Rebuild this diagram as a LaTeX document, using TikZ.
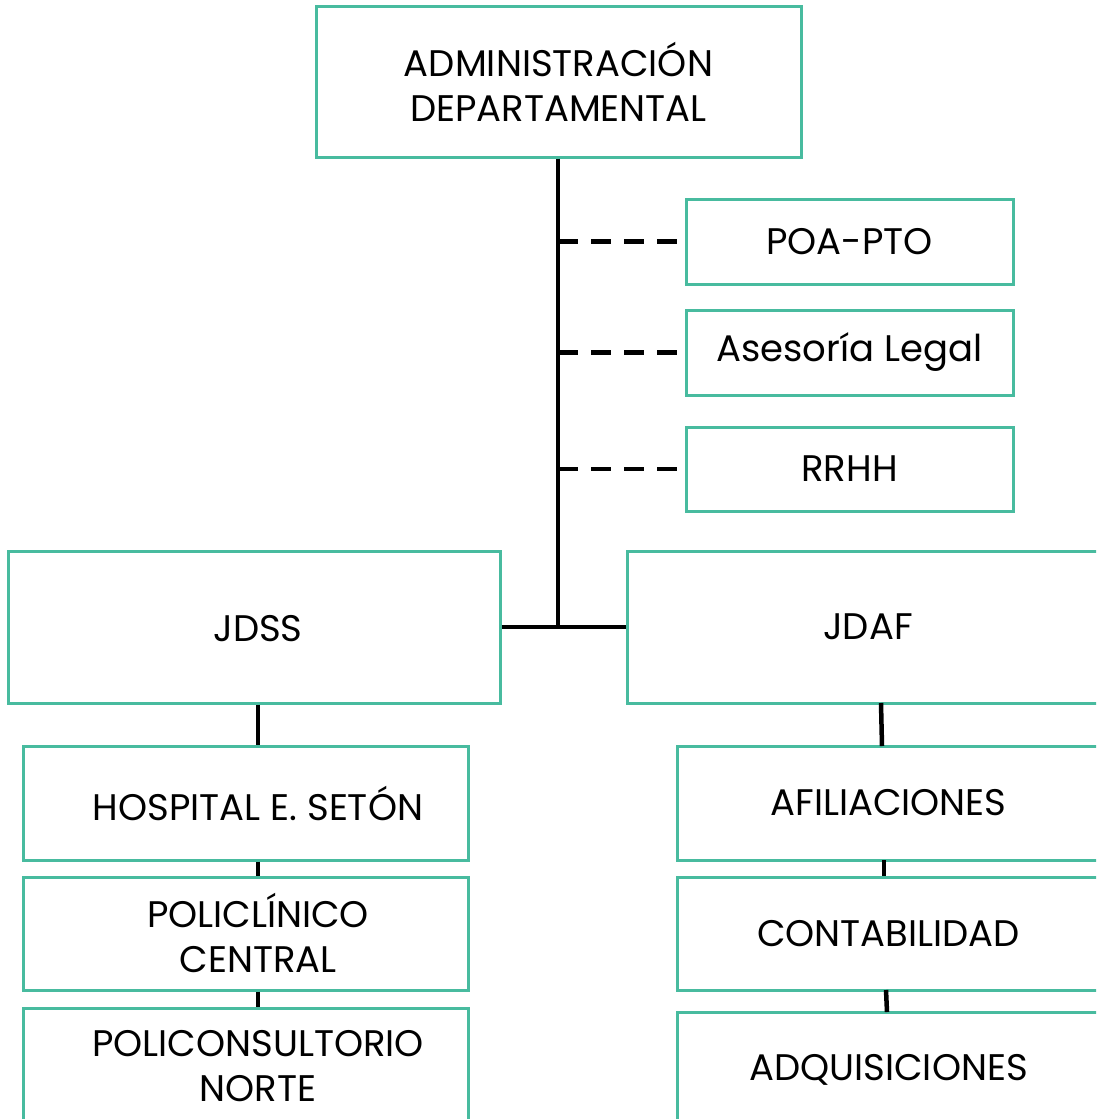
\documentclass[tikz,border=0pt]{standalone}
\usepackage{fontspec}
\setmainfont{Poppins}
\definecolor{teal1}{HTML}{48BB9F}
\begin{document}
\begin{tikzpicture}[x=1pt,y=-1pt,
  box/.style={draw=teal1,line width=3pt,fill=white,rectangle,inner sep=0pt,align=center,font=\fontsize{37}{45}\selectfont},
  txt/.style={inner sep=0pt,align=center,font=\fontsize{37}{45}\selectfont},
  link/.style={black,line width=4.5pt},
  dlink/.style={black,line width=4.5pt,dash pattern=on 20pt off 13pt}]
\useasboundingbox (0,0) rectangle (1096,1119);
\clip (0,0) rectangle (1096,1119);
% top
\node[box,minimum width=485pt,minimum height=151pt] (adm) at (558.5,81.5) {ADMINISTRACIÓN\\DEPARTAMENTAL};
\node[box,minimum width=327pt,minimum height=85pt] (poa) at (849.5,241.5) {POA-PTO};
\node[box,minimum width=327pt,minimum height=85pt] (ase) at (849.5,352.5) {Asesoría Legal};
\node[box,minimum width=327pt,minimum height=84pt] (rrhh) at (849.5,469) {RRHH};
\node[box,minimum width=492pt,minimum height=152pt] (jdss) at (254,627) {};
\node[txt] (jdssT) at (258,629) {JDSS};
\node[box,minimum width=482pt,minimum height=152pt] (jdaf) at (868,627) {JDAF};
% left column
\node[box,minimum width=445pt,minimum height=114pt] (hos) at (245.5,803) {};
\node[txt] (hosT) at (258,803) {HOSPITAL E. SETÓN};
\node[box,minimum width=445pt,minimum height=113pt] (pol) at (245.5,933.5) {};
\node[txt] (polT) at (258,933) {POLICLÍNICO\\CENTRAL};
\node[box,minimum width=445pt,minimum height=116pt] (pcn) at (245.5,1066) {};
\node[txt] (pcnT) at (258,1066) {POLICONSULTORIO\\NORTE};
% right column
\node[box,minimum width=423pt,minimum height=114pt] (afi) at (888.5,803) {AFILIACIONES};
\node[box,minimum width=423pt,minimum height=113pt] (con) at (888.5,933.5) {CONTABILIDAD};
\node[box,minimum width=423pt,minimum height=116pt] (adq) at (888.5,1070) {ADQUISICIONES};
% connectors
\coordinate (j) at (558,627);
\draw[link] (adm.south -| j) -- (j);
\draw[link] (jdss.east) -- (jdaf.west);
\coordinate (d1) at (558,241.5);
\coordinate (d2) at (558,352.5);
\coordinate (d3) at (558,469);
\draw[dlink] (d1) -- (poa.west);
\draw[dlink] (d2) -- (ase.west);
\draw[dlink] (d3) -- (rrhh.west);
\coordinate (lx) at (258,0);
\draw[link] (jdss.south -| lx) -- (hos.north -| lx);
\draw[link] (hos.south -| lx) -- (pol.north -| lx);
\draw[link] (pol.south -| lx) -- (pcn.north -| lx);
\coordinate (r1) at (881,703);
\coordinate (r2) at (882,746);
\draw[link] (r1) -- (r2);
\coordinate (r3) at (884,860);
\coordinate (r4) at (884,876);
\draw[link] (r3) -- (r4);
\coordinate (r5) at (886,990);
\coordinate (r6) at (887,1012);
\draw[link] (r5) -- (r6);
\end{tikzpicture}
\end{document}
